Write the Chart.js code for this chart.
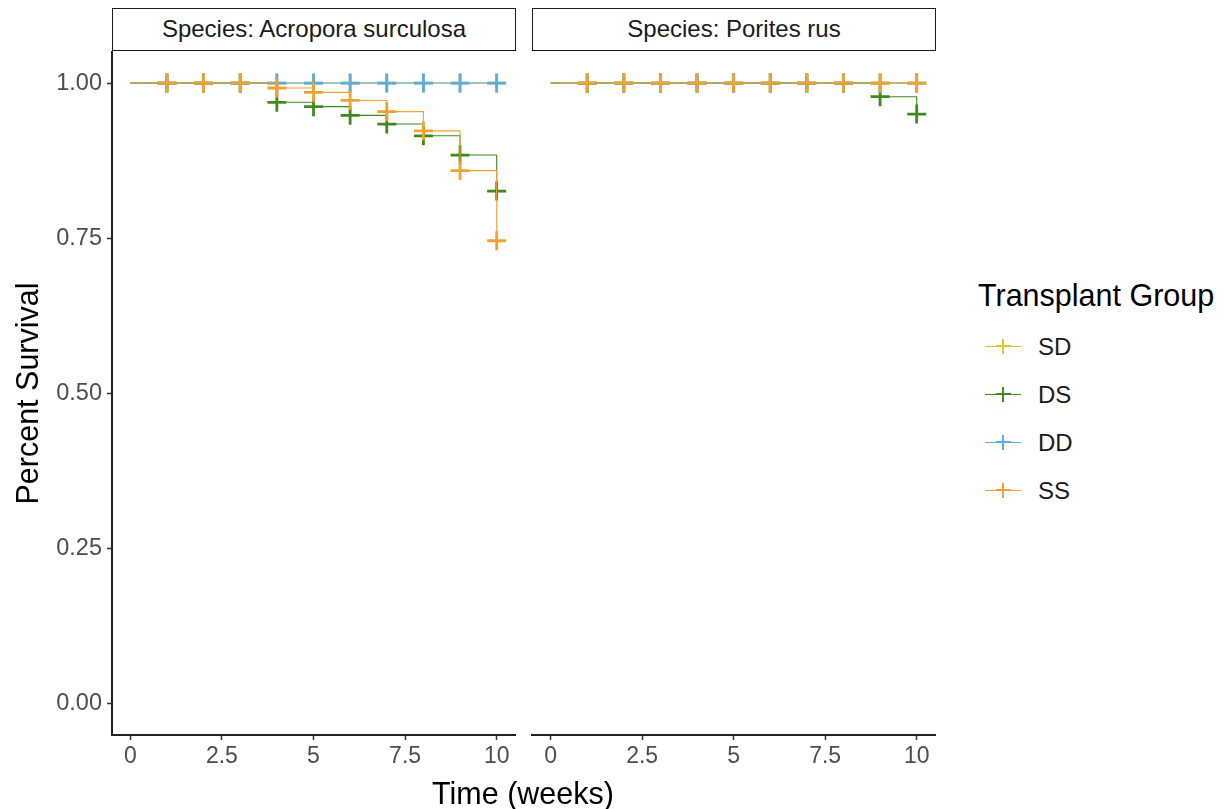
<!DOCTYPE html>
<html>
<head>
<meta charset="utf-8">
<script src="https://cdn.jsdelivr.net/npm/chart.js@4/dist/chart.umd.min.js"></script>
<style>
  body { margin: 0; background: #fff; font-family: "Liberation Sans", Arial, sans-serif; }
  #wrap { position: relative; width: 1225px; height: 809px; overflow: hidden; }
  canvas { position: absolute; top: 0; }
  .strip {
    position: absolute; top: 8px; height: 43px; box-sizing: border-box;
    border: 1.6px solid #1a1a1a; background: #fff;
    font-size: 24px; color: #1a1a1a; text-align: center; line-height: 40px; white-space: nowrap;
  }
  #xtitle { position: absolute; left: 0; width: 1046px; top: 776px; line-height: 34px; text-align: center; font-size: 30.5px; color: #000; }
  #legend { position: absolute; left: 978px; top: 277px; }
  #legend .title { font-size: 30.5px; line-height: 36px; color: #000; white-space: nowrap; }
  .item { position: absolute; left: 0; height: 20px; }
  .item .sym { position: absolute; left: 7px; top: 9px; width: 36px; height: 1px; }
  .item .v { position: absolute; top: 2px; width: 2.4px; height: 15px; }
  .item .h { position: absolute; top: 8px; width: 15px; height: 2.4px; }
  .item .lab { position: absolute; left: 60px; top: -4px; font-size: 24px; color: #1a1a1a; line-height: 28px; }
</style>
</head>
<body>
<div id="wrap">
  <canvas id="panel1" width="540" height="809" style="left:0"></canvas>
  <canvas id="panel2" width="440" height="809" style="left:520px"></canvas>
  <div class="strip" style="left:112px; width:404px">Species: Acropora surculosa</div>
  <div class="strip" style="left:532px; width:404px">Species: Porites rus</div>
  <div id="xtitle">Time (weeks)</div>
  <div id="legend"><div class="title">Transplant Group</div></div>
</div>
<script>
// semanas de acompanhamento
const weeks = [0, 1, 2, 3, 4, 5, 6, 7, 8, 9, 10];

// grupos de transplante e cores
const groups = ['SD', 'DS', 'DD', 'SS'];
const groupColors = ['#E6C02F', '#3F8A1E', '#5AAEE0', '#F2A230'];

// sobrevivência - Acropora surculosa
const acroporaSD = [1, 1, 1, 1, 1, 1, 1, 1, 1, 1, 1];
const acroporaDS = [1, 1, 1, 1, 0.969, 0.962, 0.948, 0.934, 0.915, 0.884, 0.826];
const acroporaDD = [1, 1, 1, 1, 1, 1, 1, 1, 1, 1, 1];
const acroporaSS = [1, 1, 1, 1, 0.992, 0.985, 0.972, 0.954, 0.923, 0.859, 0.746];

// sobrevivência - Porites rus
const poritesSD = [1, 1, 1, 1, 1, 1, 1, 1, 1, 1, 1];
const poritesDS = [1, 1, 1, 1, 1, 1, 1, 1, 1, 0.978, 0.95];
const poritesDD = [1, 1, 1, 1, 1, 1, 1, 1, 1, 1, 1];
const poritesSS = [1, 1, 1, 1, 1, 1, 1, 1, 1, 1, 1];

// eixos
const xTicks = [0, 2.5, 5, 7.5, 10];
const xTickLabels = ['0', '2.5', '5', '7.5', '10'];
const yTicks = [0, 0.25, 0.5, 0.75, 1];
const yTickLabels = ['0.00', '0.25', '0.50', '0.75', '1.00'];

function montarDatasets(series) {
    return series.map(function (valores, i) {
        return {
            label: groups[i],
            data: weeks.map((w, j) => ({ x: w, y: valores[j] })),
            borderColor: groupColors[i],
            backgroundColor: groupColors[i],
            borderWidth: 1.1,
            stepped: 'before',
            pointStyle: 'cross',
            pointRadius: ctx => ctx.dataIndex === 0 ? 0 : 9.5,
            pointBorderWidth: 2.8,
            pointHoverRadius: 0,
            order: groups.length - i
        };
    });
}

function eixoX() {
    return {
        type: 'linear',
        min: -0.5,
        max: 10.5,
        afterBuildTicks: scale => { scale.ticks = xTicks.map(v => ({ value: v })); },
        afterFit: scale => { scale.height = 74; },
        ticks: {
            callback: (v, i) => xTickLabels[i],
            color: '#4D4D4D',
            font: { family: 'Liberation Sans', size: 23 },
            padding: 3,
            maxRotation: 0
        },
        grid: { drawOnChartArea: false, drawTicks: true, tickLength: 5, tickColor: '#333', tickWidth: 1.5 },
        border: { display: true, color: '#222', width: 2 }
    };
}

function plotarPainel(idCanvas, series, comEixoY, padding) {
    const config = {
        type: 'line',
        data: { datasets: montarDatasets(series) },
        options: {
            responsive: false,
            animation: false,
            events: [],
            layout: { padding: padding },
            plugins: { legend: { display: false }, tooltip: { enabled: false } },
            scales: {
                x: eixoX(),
                y: {
                    type: 'linear',
                    display: comEixoY,
                    min: -0.05,
                    max: 1.05,
                    afterBuildTicks: scale => { scale.ticks = yTicks.map(v => ({ value: v })); },
                    afterFit: scale => { scale.width = comEixoY ? 112 : 0; },
                    title: {
                        display: true,
                        text: 'Percent Survival',
                        color: '#000',
                        font: { family: 'Liberation Sans', size: 30.5 },
                        padding: { top: 11, bottom: 0 }
                    },
                    ticks: {
                        callback: (v, i) => yTickLabels[i],
                        color: '#4D4D4D',
                        font: { family: 'Liberation Sans', size: 23.5 },
                        padding: 5
                    },
                    grid: { drawOnChartArea: false, drawTicks: true, tickLength: 5, tickColor: '#333', tickWidth: 1.5 },
                    border: { display: true, color: '#222', width: 2 }
                }
            }
        }
    };
    const ctx = document.getElementById(idCanvas).getContext('2d');
    return new Chart(ctx, config);
}

// painel da esquerda: área de 112 a 515 px
plotarPainel('panel1', [acroporaSD, acroporaDS, acroporaDD, acroporaSS], true,
    { top: 52, right: 25, bottom: 0, left: 0 });
// painel da direita: área de 532 a 935 px
plotarPainel('panel2', [poritesSD, poritesDS, poritesDD, poritesSS], false,
    { top: 52, right: 25, bottom: 0, left: 12 });

// legenda montada a partir dos grupos
const legenda = document.getElementById('legend');
groups.forEach(function (g, i) {
    const item = document.createElement('div');
    item.className = 'item';
    item.style.top = (60 + i * 48) + 'px';
    item.innerHTML =
        '<div class="sym" style="background:' + groupColors[i] + '"></div>' +
        '<div class="v" style="left:24px;background:' + groupColors[i] + '"></div>' +
        '<div class="h" style="left:17.5px;background:' + groupColors[i] + '"></div>' +
        '<div class="lab">' + g + '</div>';
    legenda.appendChild(item);
});
</script>
</body>
</html>
